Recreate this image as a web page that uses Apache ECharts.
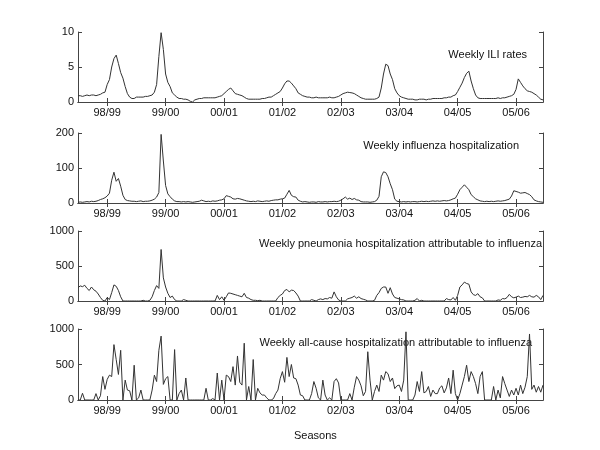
<!DOCTYPE html>
<html><head><meta charset="utf-8">
<script src="https://cdn.jsdelivr.net/npm/echarts@6/dist/echarts.min.js"></script>
<style>html,body{margin:0;padding:0;background:#fff}#c{width:600px;height:450px}</style>
</head><body><div id="c"></div>
<script>
// Two-week steps from mid 1998 to mid 2006
const seasonLabels = ['98/99','99/00','00/01','01/02','02/03','03/04','04/05','05/06'];
const panelTitles = ['Weekly ILI rates','Weekly influenza hospitalization','Weekly pneumonia hospitalization attributable to influenza','Weekly all-cause hospitalization attributable to influenza'];
const yMaxes = [10,200,1000,1000];
const yIntervals = [5,100,500,500];

const ili = [
0.9,0.9,0.8,0.9,1.0,0.9,1.0,1.0,0.9,1.0,
1.1,1.3,1.4,2.5,3.2,5.0,6.2,6.7,5.5,4.2,
3.4,2.2,1.2,0.7,0.5,0.5,0.7,0.7,0.7,0.7,
0.8,0.8,0.9,1.0,1.4,2.5,6.5,9.9,7.5,4.0,
2.8,2.2,1.3,1.0,0.7,0.5,0.5,0.4,0.4,0.3,
0.1,0.0,0.3,0.4,0.5,0.5,0.6,0.6,0.6,0.6,
0.6,0.6,0.7,0.8,0.9,1.2,1.5,1.8,2.0,1.6,
1.2,1.1,1.0,0.9,0.7,0.5,0.4,0.4,0.4,0.4,
0.4,0.4,0.5,0.5,0.6,0.7,0.7,0.9,1.1,1.3,
1.5,2.0,2.6,3.0,3.0,2.7,2.3,1.9,1.3,1.1,
0.9,0.8,0.7,0.7,0.6,0.6,0.7,0.6,0.6,0.6,
0.6,0.6,0.7,0.6,0.6,0.7,0.8,1.0,1.2,1.3,
1.4,1.35,1.3,1.2,1.0,0.8,0.6,0.5,0.4,0.4,
0.4,0.4,0.4,0.5,0.7,2.0,4.0,5.4,5.2,4.0,
3.2,1.9,1.3,0.9,0.7,0.6,0.5,0.4,0.4,0.4,
0.3,0.3,0.4,0.4,0.4,0.3,0.4,0.4,0.5,0.5,
0.5,0.5,0.5,0.6,0.6,0.7,0.7,0.9,1.0,1.5,
2.1,2.7,3.5,4.1,4.4,3.0,1.9,1.0,0.6,0.5,
0.5,0.5,0.5,0.5,0.5,0.5,0.5,0.6,0.5,0.6,
0.6,0.7,0.8,0.9,1.1,1.8,3.3,2.8,2.3,1.9,
1.6,1.5,1.4,1.2,1.0,0.7,0.4,0.3];

const fluHosp = [
2,3,2,3,4,3,5,4,5,7,
10,12,15,20,28,65,88,62,70,48,
22,10,7,6,5,5,4,5,6,4,
5,5,6,8,11,17,30,196,120,50,
26,18,11,6,4,4,3,4,3,4,
3,2,3,4,5,8,6,4,5,4,
6,5,6,8,9,12,21,19,17,12,
11,13,12,10,8,6,5,4,5,4,
6,5,4,5,6,5,7,8,9,9,
11,12,14,25,36,22,18,17,8,5,
3,4,3,2,3,3,2,4,3,3,
4,3,4,4,5,4,5,8,12,17,
11,14,10,13,9,8,4,3,3,3,
2,3,4,8,19,75,89,87,75,55,
38,11,5,4,3,4,3,4,3,4,
4,3,4,5,4,5,4,5,6,5,
6,5,6,7,6,7,9,12,14,25,
38,45,52,45,38,24,18,12,9,6,
5,4,5,4,5,4,5,6,5,6,
7,9,11,20,35,33,31,28,29,30,
27,24,18,9,6,4,3,2];

const pneumonia = [
190,215,205,225,180,150,200,160,140,100,
50,10,0,50,20,120,230,210,150,60,
0,0,0,0,0,0,0,0,0,10,
0,0,10,60,150,220,180,736,330,200,
110,50,70,20,0,0,0,20,10,0,
0,0,0,0,0,0,0,0,0,0,
0,0,80,20,60,10,60,115,110,100,
90,80,70,60,110,50,40,20,10,10,
5,10,0,0,0,0,0,0,0,50,
80,100,150,165,130,155,150,115,70,0,
0,0,0,0,20,10,0,20,30,20,
35,30,50,40,130,60,15,0,0,0,
30,40,50,70,40,60,35,25,15,0,
0,0,10,80,120,180,200,200,110,190,
100,50,40,30,20,15,0,0,0,0,
10,35,0,10,0,0,0,0,0,0,
0,0,0,0,35,20,15,50,10,80,
200,230,270,250,240,130,90,80,105,60,
45,0,0,0,0,0,0,15,10,35,
30,50,95,60,45,55,70,50,55,65,
60,80,60,55,80,60,20,80];

const allCause = [
0,0,95,0,0,0,0,0,90,0,
60,330,150,290,350,330,780,570,360,700,
0,280,140,130,0,490,0,30,140,0,
0,0,0,140,350,260,700,900,220,300,
330,0,0,710,0,90,140,0,310,0,
0,0,0,0,0,0,0,165,0,0,
20,0,380,0,280,0,350,330,260,470,
210,620,250,210,800,0,190,0,570,0,
165,100,70,70,30,0,0,20,90,140,
300,400,250,600,330,500,310,300,210,70,
60,0,0,0,90,260,165,30,0,280,
70,0,30,0,260,300,240,0,0,0,
0,90,0,180,330,280,200,60,120,680,
280,0,120,210,120,350,280,400,370,260,
310,160,200,210,120,280,960,0,0,0,
70,260,120,400,100,120,190,50,140,90,
90,170,200,100,170,310,90,420,90,0,
90,210,330,490,260,400,330,230,90,330,
400,0,0,0,0,190,0,140,30,330,
230,140,50,140,70,165,70,210,90,180,
330,930,150,210,110,190,110,210];

const seriesData = [ili, fluHosp, pneumonia, allCause];
const N = ili.length;
const weeks = Array.from({length: N}, (_, i) => String(i));
const isTick = i => i >= 13 && (i - 13) % 26 === 0;
const FONT = 'Liberation Sans, Arial, sans-serif';
const AX = '#444';

const gridBoxes = [{top:32,height:70},{top:133,height:70},{top:231,height:70},{top:329,height:71}];
const grid = [], xAxis = [], yAxis = [], series = [];
gridBoxes.forEach((g, k) => {
  grid.push({left:78, right:57, top:g.top, height:g.height});
  xAxis.push({
    type:'category', gridIndex:k, data:weeks, boundaryGap:false, position:'bottom',
    axisLine:{lineStyle:{color:AX, width:1}},
    axisTick:{inside:true, length:4, interval:(i)=>isTick(i), lineStyle:{color:AX}},
    axisLabel:{interval:(i)=>isTick(i), formatter:(v, i)=>seasonLabels[(i-13)/26] || '', color:'#111', fontSize:11, fontFamily:FONT, margin:5},
    splitLine:{show:false}
  });
  xAxis.push({
    type:'category', gridIndex:k, data:weeks, boundaryGap:false, position:'top',
    axisLine:{lineStyle:{color:AX, width:1}},
    axisTick:{inside:true, length:4, interval:(i)=>isTick(i), lineStyle:{color:AX}},
    axisLabel:{show:false}, splitLine:{show:false}
  });
  yAxis.push({
    type:'value', gridIndex:k, min:0, max:yMaxes[k], interval:yIntervals[k], position:'left',
    axisLine:{show:true, lineStyle:{color:AX, width:1}},
    axisTick:{show:true, inside:true, length:4, lineStyle:{color:AX}},
    axisLabel:{color:'#111', fontSize:11, fontFamily:FONT, margin:4, formatter:(v)=>String(v)},
    splitLine:{show:false}
  });
  yAxis.push({
    type:'value', gridIndex:k, min:0, max:yMaxes[k], interval:yIntervals[k], position:'right',
    axisLine:{show:true, lineStyle:{color:AX, width:1}},
    axisTick:{show:true, inside:true, length:4, lineStyle:{color:AX}},
    axisLabel:{show:false}, splitLine:{show:false}
  });
  series.push({
    type:'line', xAxisIndex:2*k, yAxisIndex:2*k, data:seriesData[k],
    symbol:'none', smooth:false, lineStyle:{color:'#333', width:1}, silent:true, animation:false
  });
});

const titlePos = [[527,56],[519,147],[542,245],[532,344]];
const graphic = panelTitles.map((t, k) => ({
  type:'text', right: 600 - titlePos[k][0], top: titlePos[k][1] - 7,
  style:{text:t, fill:'#111', font:'11px ' + FONT}
}));
graphic.push({type:'text', left:294, top:430, style:{text:'Seasons', fill:'#111', font:'11px ' + FONT}});

const chart = echarts.init(document.getElementById('c'), null, {renderer:'canvas'});
chart.setOption({animation:false, backgroundColor:'#fff', grid, xAxis, yAxis, series, graphic});
</script></body></html>
